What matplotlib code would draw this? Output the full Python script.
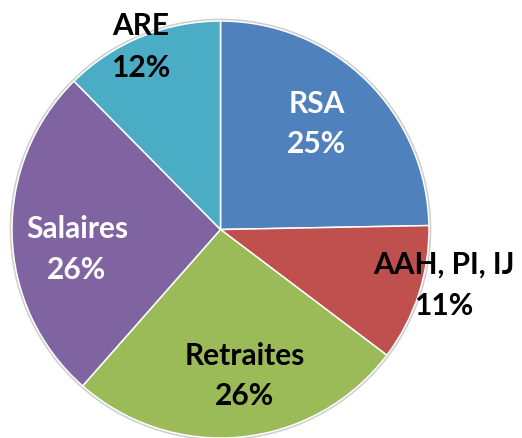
import matplotlib
matplotlib.use("Agg")
import matplotlib.pyplot as plt
from matplotlib.patches import Circle

categories = ["RSA", "AAH, PI, IJ", "Retraites", "Salaires", "ARE"]
shares = [24.7, 10.6, 26.2, 26.1, 12.4]
pct_labels = ["25%", "11%", "26%", "26%", "12%"]
colors = ["#4F81BD", "#C0504D", "#9BBB59", "#8064A2", "#4BACC6"]
text_colors = ["white", "black", "black", "white", "black"]

W, H = 522, 438
fig = plt.figure(figsize=(W / 100, H / 100), dpi=100)
ax = fig.add_axes([0, 0, 1, 1])

cx, cy, r = 220.5, H - 229.5, 208.5
# subtle grey outline around the pie
ax.add_patch(Circle((cx, cy), r + 0.8, facecolor="none", edgecolor="#cfcfcf",
                    linewidth=2.2, zorder=0))
ax.pie(shares, colors=colors, startangle=90, counterclock=False,
       center=(cx, cy), radius=r,
       wedgeprops=dict(edgecolor="white", linewidth=1.1))
ax.set_xlim(0, W)
ax.set_ylim(0, H)
ax.set_aspect("equal")
ax.axis("off")

# label positions in pixel coords (x center, baseline line1, baseline line2)
label_pos = [(317, 113, 153), (444, 274, 315), (245, 365, 405),
             (77, 238, 279), (141, 35, 77)]
font = dict(family=["Lato", "DejaVu Sans"], fontweight="bold", fontsize=21.5)
for cat, pct, col, (x, b1, b2) in zip(categories, pct_labels, text_colors, label_pos):
    ax.text(x, H - b1, cat, ha="center", va="baseline", color=col, **font)
    ax.text(x, H - b2, pct, ha="center", va="baseline", color=col, **font)

fig.savefig("out.png", dpi=100)
